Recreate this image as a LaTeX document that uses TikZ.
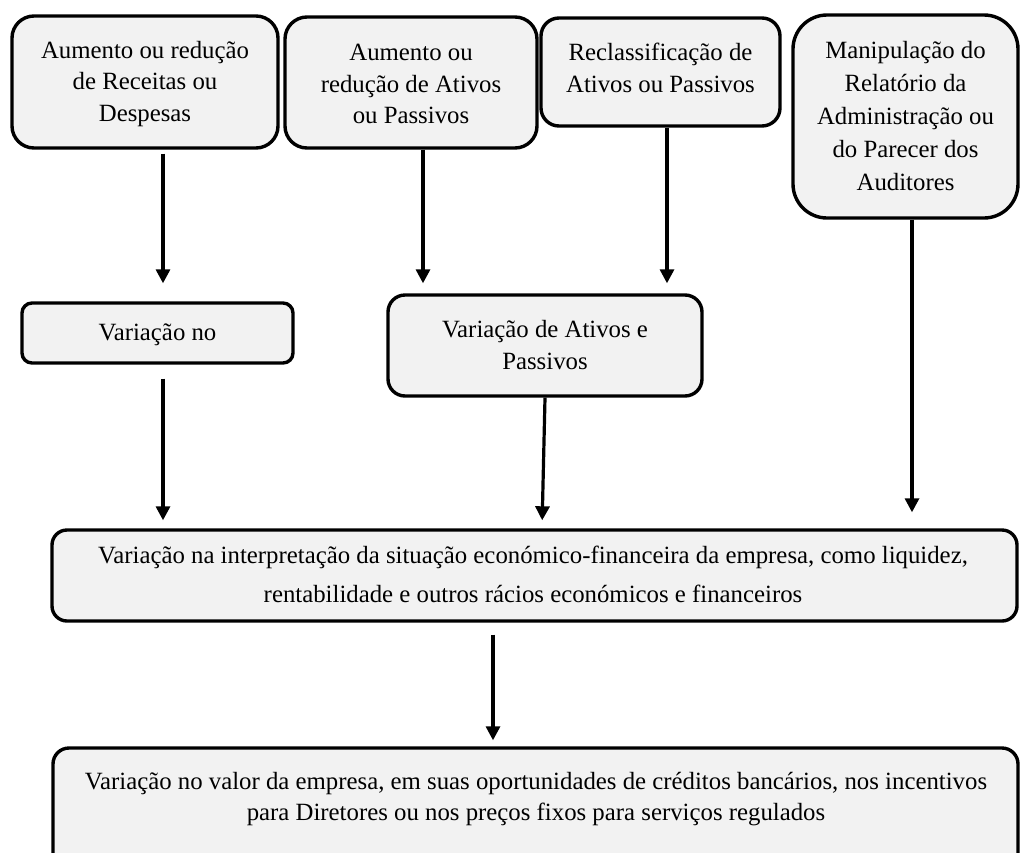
\documentclass[tikz,border=0pt]{standalone}
\usepackage{fontspec}
\setmainfont{Liberation Serif}
\usetikzlibrary{arrows.meta}
\definecolor{boxgray}{HTML}{F2F2F2}
\begin{document}
\begin{tikzpicture}[x=1pt,y=-1pt,
  box/.style={draw=black, line width=3.4pt, fill=boxgray, inner sep=0pt},
  txt/.style={align=center, inner sep=0pt, font=\fontsize{24.8}{31.5}\selectfont},
  arr/.style={line width=3.2pt, -{Triangle[length=14pt,width=14pt]}}]
\useasboundingbox (0,0) rectangle (1020,852);
\clip (0,0) rectangle (1020,852);
% boxes
\node[box, rounded corners=22pt, minimum width=266pt, minimum height=132pt] (b1) at (145,82) {};
\node[box, rounded corners=22pt, minimum width=252pt, minimum height=131pt] (b2) at (411,82.5) {};
\node[box, rounded corners=18pt, minimum width=239pt, minimum height=108pt] (b3) at (660.5,72) {};
\node[box, rounded corners=34pt, minimum width=225pt, minimum height=203pt] (b4) at (905.5,116.5) {};
\node[box, rounded corners=10pt, minimum width=271pt, minimum height=60pt] (v1) at (157.5,333) {};
\node[box, rounded corners=17pt, minimum width=314pt, minimum height=101pt] (v2) at (545,345.5) {};
\node[box, rounded corners=15pt, minimum width=965pt, minimum height=91pt] (c1) at (534.5,575.5) {};
\node[box, rounded corners=16pt, minimum width=965pt, minimum height=132pt] (c2) at (535.5,814) {};
% texts
\node[txt] (t1) at (145,84) {Aumento ou redução\\de Receitas ou\\Despesas};
\node[txt] (t2) at (411,84) {Aumento ou\\redução de Ativos\\ou Passivos};
\node[txt] (t3) at (660.5,68) {Reclassificação de\\Ativos ou Passivos};
\node[txt, font=\fontsize{24.8}{33}\selectfont] (t4) at (905.5,116) {Manipulação do\\Relatório da\\Administração ou\\do Parecer dos\\Auditores};
\node[txt] (tv1) at (157.5,335) {Variação no};
\node[txt] (tv2) at (545,345) {Variação de Ativos e\\Passivos};
\node[txt, font=\fontsize{24.8}{39}\selectfont] (tc1) at (533,574) {Variação na interpretação da situação económico-financeira da empresa, como liquidez,\\rentabilidade e outros rácios económicos e financeiros};
\node[txt] (tc2) at (536,799) {Variação no valor da empresa, em suas oportunidades de créditos bancários, nos incentivos\\para Diretores ou nos preços fixos para serviços regulados};
% arrows
\draw[arr, shorten <=4pt, shorten >=18pt] (b1.south -| 163,0) -- (v1.north -| 163,0);
\draw[arr, shorten >=10pt] (b2.south -| 423,0) -- (v2.north -| 423,0);
\draw[arr, shorten >=10pt] (b3.south -| 667,0) -- (v2.north -| 667,0);
\draw[arr, shorten >=16pt] (b4.south -| 912,0) -- (c1.north -| 912,0);
\draw[arr, shorten <=14pt, shorten >=8pt] (v1.south -| 163,0) -- (c1.north -| 163,0);
\draw[arr, shorten >=8pt] (v2.south -| 545,0) -- (c1.north -| 542,0);
\draw[arr, shorten <=12pt, shorten >=6pt] (c1.south -| 493,0) -- (c2.north -| 493,0);
\end{tikzpicture}
\end{document}
